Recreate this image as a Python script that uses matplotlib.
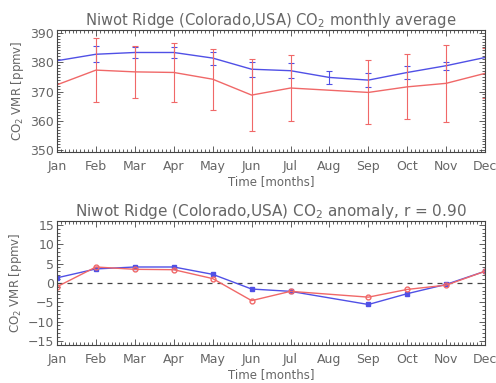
import numpy as np
import matplotlib
matplotlib.use('Agg')
import matplotlib.pyplot as plt
from matplotlib.ticker import MultipleLocator

months = ['Jan', 'Feb', 'Mar', 'Apr', 'May', 'Jun',
          'Jul', 'Aug', 'Sep', 'Oct', 'Nov', 'Dec']

# top panel: monthly average (ppmv)
blue_x = [1, 2, 3, 4, 5, 6, 7, 8, 9, 10, 11, 12]
blue_avg = [380.5, 382.7, 383.3, 383.3, 381.4, 377.6, 377.1, 374.8, 373.9, 376.5, 378.8, 381.6]
blue_err_x = [2, 3, 4, 5, 6, 7, 8, 9, 10, 11]
blue_err = [2.8, 1.9, 1.9, 2.2, 2.6, 2.6, 2.3, 2.4, 2.3, 1.4]

red_x = [1, 2, 3, 4, 5, 6, 7, 9, 10, 11, 12]
red_avg = [372.3, 377.3, 376.7, 376.5, 374.2, 368.8, 371.2, 369.7, 371.6, 372.8, 376.2]
red_err_x = [2, 3, 4, 5, 6, 7, 9, 10, 11, 12]
red_err = [10.9, 8.9, 9.9, 10.4, 12.4, 11.2, 10.9, 11.1, 13.0, 8.5]

# bottom panel: anomaly (ppmv)
anom_x = [1, 2, 3, 4, 5, 6, 7, 9, 10, 11, 12]
blue_anom = [1.3, 3.6, 4.1, 4.1, 2.2, -1.6, -2.2, -5.6, -2.8, -0.4, 3.0]
red_anom = [-1.0, 4.1, 3.5, 3.4, 1.1, -4.6, -2.2, -3.7, -1.7, -0.6, 3.0]

BLUE = '#5050e6'
RED = '#f06868'
TXT = '#666666'

plt.rcParams['font.family'] = 'DejaVu Sans'
plt.rcParams['text.color'] = TXT
plt.rcParams['axes.labelcolor'] = TXT
plt.rcParams['xtick.color'] = TXT
plt.rcParams['ytick.color'] = TXT

fig = plt.figure(figsize=(4.96, 3.83), dpi=100)
ax1 = fig.add_axes([0.115, 0.603, 0.863, 0.319])
ax2 = fig.add_axes([0.115, 0.099, 0.863, 0.324])


def style(ax, ymaj, ymin):
    ax.set_xlim(1, 12)
    ax.set_xticks(range(1, 13))
    ax.set_xticklabels(months)
    ax.xaxis.set_minor_locator(MultipleLocator(0.1))
    ax.yaxis.set_major_locator(MultipleLocator(ymaj))
    ax.yaxis.set_minor_locator(MultipleLocator(ymin))
    ax.tick_params(which='both', direction='in', top=True, right=True,
                   labelsize=9, color='#444444', width=0.6)
    ax.tick_params(axis='x', pad=6)
    ax.tick_params(axis='y', pad=2)
    ax.tick_params(which='major', length=4)
    ax.tick_params(which='minor', length=2)
    for s in ax.spines.values():
        s.set_color('#444444')
        s.set_linewidth(0.8)
    ax.set_xlabel('Time [months]', fontsize=8.5, labelpad=1)
    ax.set_ylabel('CO$_2$ VMR [ppmv]', fontsize=8.5, labelpad=3)


# top
ax1.plot(blue_x, blue_avg, color=BLUE, lw=1.0)
ax1.errorbar(blue_err_x, [blue_avg[blue_x.index(m)] for m in blue_err_x],
             yerr=blue_err, fmt='none', ecolor=BLUE, elinewidth=0.8,
             capsize=2, capthick=0.8)
ax1.plot(red_x, red_avg, color=RED, lw=1.0)
ax1.errorbar(red_err_x, [red_avg[red_x.index(m)] for m in red_err_x],
             yerr=red_err, fmt='none', ecolor=RED, elinewidth=0.8,
             capsize=2, capthick=0.8)
ax1.set_ylim(349.4, 391)
style(ax1, 10, 1)
ax1.set_title('Niwot Ridge (Colorado,USA) CO$_2$ monthly average',
              fontsize=10.6, pad=3, color=TXT)

# bottom
ax2.axhline(0, color='#444444', lw=0.9, ls=(0, (4, 4)))
ax2.plot(anom_x, blue_anom, color=BLUE, lw=1.0, marker='s', ms=3)
ax2.plot(anom_x, red_anom, color=RED, lw=1.0, marker='o', ms=3.5,
         mfc='none', mew=1.0)
ax2.set_ylim(-16.1, 16)
style(ax2, 5, 1)
ax2.set_title('Niwot Ridge (Colorado,USA) CO$_2$ anomaly, r = 0.90',
              fontsize=11, pad=3, color=TXT)

fig.savefig('out.png', dpi=100)
